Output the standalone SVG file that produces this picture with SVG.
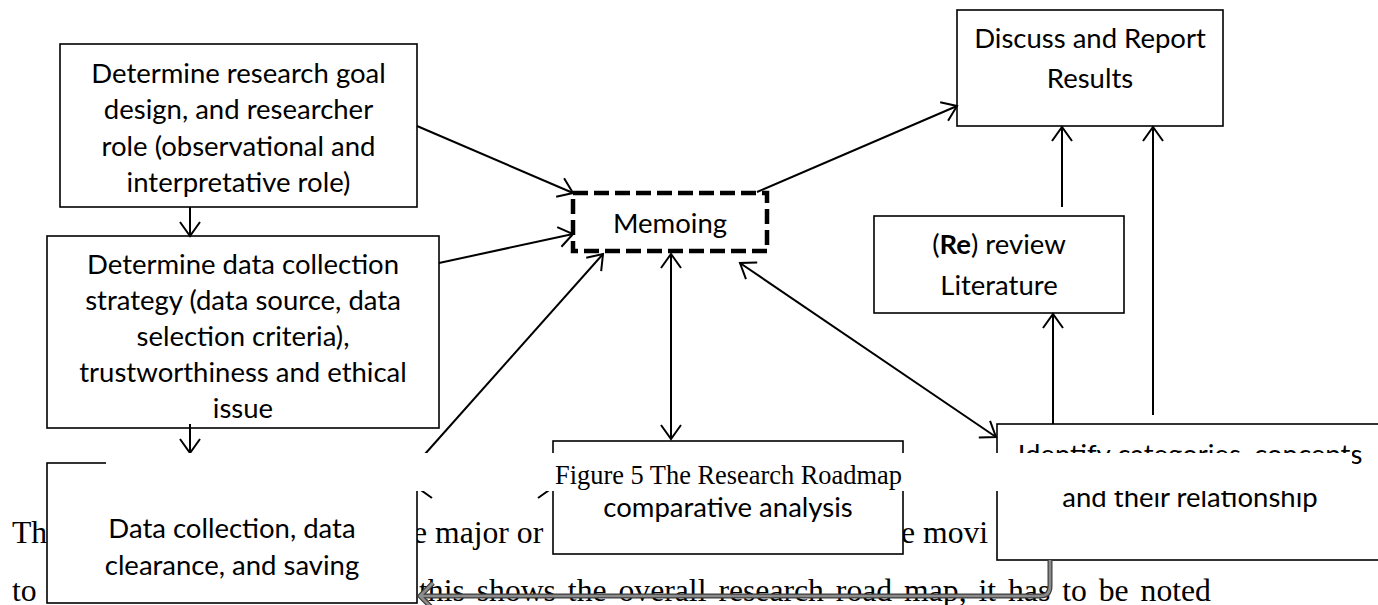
<svg xmlns="http://www.w3.org/2000/svg" width="1378" height="605" viewBox="0 0 1378 605">
  <style>
    .box { fill: #fff; stroke: #000; stroke-width: 1.6; }
    .memo { fill: #fff; stroke: #000; stroke-width: 4.5; stroke-dasharray: 15 6; }
    .lbl { font-family: Lato, "Open Sans", sans-serif; font-size: 27.5px; fill: #000; text-anchor: middle; }
    .body { font-family: "Liberation Serif", "Times New Roman", serif; font-size: 31.7px; fill: #000; }
    .cap { font-family: "Liberation Serif", "Times New Roman", serif; font-size: 26.4px; fill: #000; }
    .edge { fill: none; stroke: #000; stroke-width: 2; }
  </style>
  <defs>
    <marker id="open" viewBox="-16 -12 18 24" refX="0" refY="0" markerWidth="18" markerHeight="24" markerUnits="userSpaceOnUse" orient="auto-start-reverse">
      <path d="M-14,-10 L0,0 L-14,10" fill="none" stroke="#000" stroke-width="2"/>
    </marker>
  </defs>

  <rect width="1378" height="605" fill="#fff"/>

  <!-- running text of the page, partly behind the flowchart -->
  <g id="page-text" class="body">
    <text x="12" y="543">Th</text>
    <text x="413" y="543">e major or</text>
    <text x="901" y="543">e movi</text>
    <text x="12" y="601">to</text>
    <text x="419" y="601" word-spacing="4">this shows the overall research road map, it has to be noted</text>
  </g>

  <g id="goal">
    <rect class="box" x="60" y="44" width="357" height="163"/>
    <text class="lbl" x="238.5" y="82.5">Determine research goal</text>
    <text class="lbl" x="238.5" y="119">design, and researcher</text>
    <text class="lbl" x="238.5" y="155.5">role (observational and</text>
    <text class="lbl" x="238.5" y="192">interpretative role)</text>
  </g>

  <g id="strategy">
    <rect class="box" x="47" y="236" width="392" height="192"/>
    <text class="lbl" x="243" y="274">Determine data collection</text>
    <text class="lbl" x="243" y="310">strategy (data source, data</text>
    <text class="lbl" x="243" y="346">selection criteria),</text>
    <text class="lbl" x="243" y="382">trustworthiness and ethical</text>
    <text class="lbl" x="243" y="418">issue</text>
  </g>

  <g id="collection">
    <rect class="box" x="47" y="463" width="370" height="140"/>
    <text class="lbl" x="232" y="538">Data collection, data</text>
    <text class="lbl" x="232" y="575">clearance, and saving</text>
  </g>

  <g id="memoing">
    <rect class="memo" x="573" y="193" width="194" height="58"/>
    <text class="lbl" x="670" y="233">Memoing</text>
  </g>

  <g id="comparative">
    <rect class="box" x="553" y="441" width="350" height="113"/>
    <text class="lbl" x="728" y="517">comparative analysis</text>
  </g>

  <g id="categories">
    <rect class="box" x="997" y="424" width="400" height="136"/>
    <text class="lbl" x="1190" y="464">Identify categories, concepts</text>
    <text class="lbl" x="1190" y="507">and their relationship</text>
  </g>

  <g id="literature">
    <rect class="box" x="874" y="216" width="250" height="97"/>
    <text class="lbl" x="999" y="254">(<tspan font-weight="bold">Re</tspan>) review</text>
    <text class="lbl" x="999" y="295">Literature</text>
  </g>

  <g id="report">
    <rect class="box" x="957" y="10" width="266" height="116"/>
    <text class="lbl" x="1090" y="48">Discuss and Report</text>
    <text class="lbl" x="1090" y="88">Results</text>
  </g>

  <g id="connectors">
    <line class="edge" x1="190" y1="207" x2="190" y2="236" marker-end="url(#open)"/>
    <line class="edge" x1="190" y1="424" x2="190" y2="453" marker-end="url(#open)"/>
    <line class="edge" x1="417" y1="126" x2="573" y2="193" marker-end="url(#open)"/>
    <line class="edge" x1="439" y1="263" x2="573" y2="234" marker-end="url(#open)"/>
    <line class="edge" x1="417" y1="463" x2="603" y2="254" marker-end="url(#open)"/>
    <line class="edge" x1="418" y1="488" x2="552" y2="488" marker-start="url(#open)" marker-end="url(#open)"/>
    <line class="edge" x1="671" y1="254" x2="671" y2="439" marker-start="url(#open)" marker-end="url(#open)"/>
    <line class="edge" x1="740" y1="263" x2="996" y2="437" marker-start="url(#open)" marker-end="url(#open)"/>
    <line class="edge" x1="1053" y1="424" x2="1053" y2="314" marker-end="url(#open)"/>
    <line class="edge" x1="1062" y1="207" x2="1062" y2="127" marker-end="url(#open)"/>
    <line class="edge" x1="1153" y1="415" x2="1153" y2="127" marker-end="url(#open)"/>
    <line class="edge" x1="757" y1="192" x2="957" y2="106" marker-end="url(#open)"/>
    <!-- grey elbow return from the categories box -->
    <g fill="none" stroke-linejoin="round">
      <path d="M1050,560 V586 Q1050,596 1040,596 H420 M433,583 L420,596 L433,609" stroke="#3c3c3c" stroke-width="5"/>
      <path d="M1050,560 V586 Q1050,596 1040,596 H420 M433,583 L420,596 L433,609" stroke="#8c8c8c" stroke-width="2.6"/>
    </g>
  </g>

  <!-- caption line of the page, printed over the figure -->
  <g id="caption">
    <rect x="106" y="453" width="1246" height="38" fill="#fff"/>
    <text class="cap" x="555" y="484">Figure 5 The Research Roadmap</text>
  </g>
</svg>
